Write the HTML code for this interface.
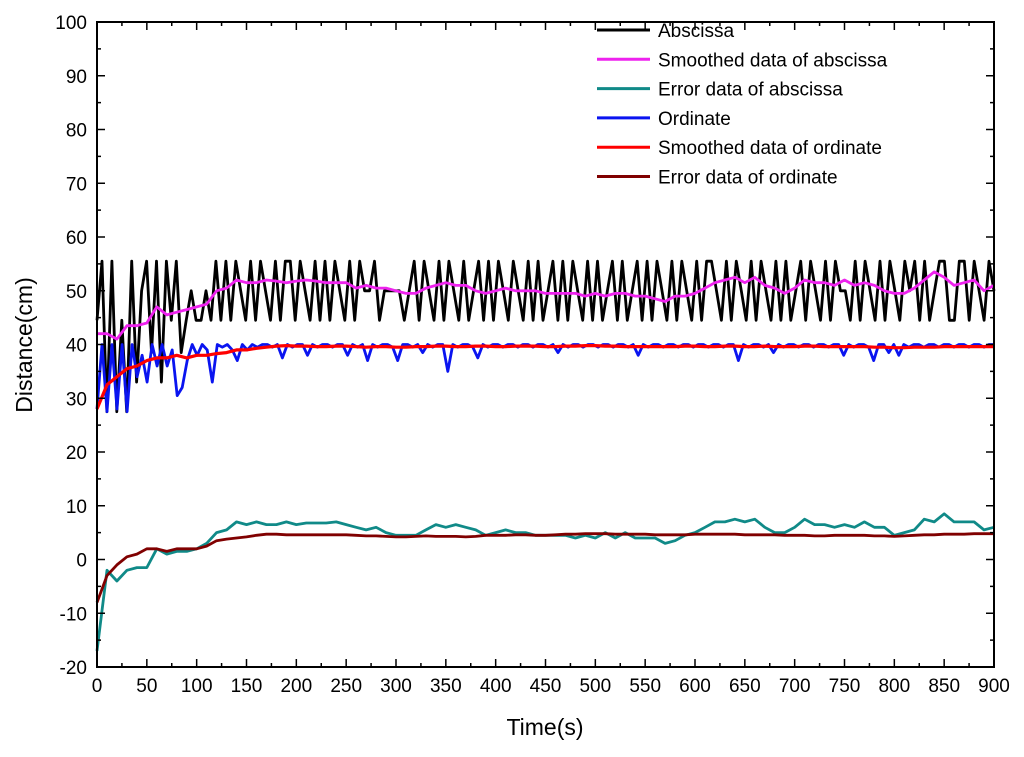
<!DOCTYPE html>
<html><head><meta charset="utf-8"><style>
body{margin:0;background:#fff}
svg{display:block;font-family:"Liberation Sans",Arial,sans-serif}
</style></head><body>
<svg id="chart" width="1024" height="757"></svg>
<script>
const xTicks=[0,50,100,150,200,250,300,350,400,450,500,550,600,650,700,750,800,850,900];
const yTicks=[-20,-10,0,10,20,30,40,50,60,70,80,90,100];
const abscissa=[44.5,55.5,27.5,55.5,27.5,44.5,27.5,55.5,33,50,55.5,38.5,55.5,33,55.5,44.5,55.5,38.5,44.5,50,44.5,44.5,50,44.5,55.5,44.5,55.5,44.5,55.5,50,44.5,55.5,44.5,55.5,50,44.5,55.5,44.5,55.5,55.5,44.5,55.5,50,44.5,55.5,44.5,55.5,44.5,55.5,50,44.5,55.5,44.5,55.5,50,50,55.5,44.5,50,50,50,50,44.5,50,55.5,44.5,55.5,50,44.5,55.5,44.5,55.5,50,44.5,55.5,44.5,50,55.5,44.5,55.5,44.5,55.5,50,44.5,55.5,50,44.5,55.5,44.5,55.5,44.5,50,55.5,44.5,55.5,44.5,55.5,50,44.5,55.5,44.5,55.5,44.5,50,55.5,44.5,55.5,44.5,50,55.5,44.5,55.5,44.5,55.5,50,44.5,55.5,44.5,55.5,50,44.5,55.5,44.5,55.5,55.5,50,44.5,55.5,44.5,55.5,50,44.5,55.5,44.5,55.5,50,44.5,55.5,44.5,55.5,44.5,50,55.5,44.5,55.5,50,44.5,55.5,44.5,55.5,50,50,44.5,55.5,44.5,55.5,50,44.5,55.5,44.5,55.5,50,44.5,55.5,50,55.5,44.5,55.5,44.5,50,55.5,55.5,44.5,44.5,55.5,55.5,44.5,55.5,50,44.5,55.5,50];
const ordinate=[28,40,27.5,40,28,40,27.5,40,34,38,33,40,36,40,36,39,30.5,32,37,40,38,40,39,33,40,39.5,40,39,37,40,39,40,39.5,40,40,39.5,40,37.5,40,39.5,40,40,38,40,39.5,40,40,39.5,40,40,38,40,39.5,40,37,40,39.5,40,40,39.5,37,40,40,39.5,40,38.5,40,39.5,40,40,35,40,39.5,40,40,39.5,37.5,40,39.5,40,40,39.5,40,40,39.5,40,40,39.5,40,40,39.5,40,38.5,40,39.5,40,40,39.5,40,40,39.5,40,40,39.5,40,40,39.5,40,38,40,39.5,40,40,39.5,40,40,39.5,40,40,39.5,40,40,39.5,40,40,39.5,40,40,37,40,39.5,40,40,39.5,40,38.5,40,39.5,40,40,39.5,40,40,39.5,40,40,39.5,40,40,38,40,39.5,40,40,39.5,37,40,40,38.5,40,38,40,39.5,40,40,39.5,40,40,39.5,40,40,39.5,40,40,39.5,40,40,39.5,40,40];
const smoothAbs=[42,42,41,43.5,43.5,44,47,45.5,46,46.5,47,47.5,50,50.5,52,51.5,51.5,52,51.8,51.5,51.8,52,51.8,51.5,51.5,51.5,50.5,51,50.5,50.5,50,49.5,49.5,50.5,51,51.5,51,51,50,49.5,50,50.5,50,50,50,49.5,49.5,49.5,49.5,49,49.5,49,49.5,49.5,49,49,48.5,48,49,49,49.5,50.5,51.5,52,52.5,51.5,52.5,51,50.5,49.5,50.5,52,51.5,51.5,51,52,51,51.5,51,50,49.5,49.5,50.5,52,53.5,52.5,51,51.5,52,50,51];
const errAbs=[-17,-2,-4,-2,-1.5,-1.5,2,1,1.5,1.5,2,3,5,5.5,7,6.5,7,6.5,6.5,7,6.5,6.8,6.8,6.8,7,6.5,6,5.5,6,5,4.5,4.5,4.5,5.5,6.5,6,6.5,6,5.5,4.5,5,5.5,5,5,4.5,4.5,4.5,4.5,4,4.5,4,5,4,5,4,4,4,3,3.5,4.5,5,6,7,7,7.5,7,7.5,6,5,5,6,7.5,6.5,6.5,6,6.5,6,7,6,6,4.5,5,5.5,7.5,7,8.5,7,7,7,5.5,6];
const smoothOrd=[28,32.5,34,35.5,36,37,37.5,37.5,38,37.5,38,38,38.3,38.5,39,39,39.3,39.5,39.7,39.8,39.7,39.7,39.6,39.6,39.7,39.7,39.6,39.5,39.6,39.6,39.5,39.5,39.6,39.6,39.7,39.7,39.6,39.6,39.7,39.7,39.6,39.6,39.7,39.7,39.7,39.6,39.6,39.7,39.7,39.8,39.8,39.7,39.7,39.6,39.6,39.6,39.6,39.6,39.6,39.7,39.7,39.6,39.6,39.7,39.7,39.6,39.6,39.7,39.6,39.6,39.6,39.7,39.7,39.6,39.6,39.6,39.6,39.6,39.5,39.5,39.4,39.4,39.5,39.5,39.5,39.6,39.6,39.6,39.6,39.6,39.6];
const errOrd=[-8,-3,-1,0.5,1,2,2,1.5,2,2,2,2.5,3.5,3.8,4,4.2,4.5,4.7,4.7,4.6,4.6,4.6,4.6,4.6,4.6,4.6,4.5,4.4,4.4,4.3,4.2,4.2,4.3,4.4,4.3,4.3,4.3,4.2,4.3,4.5,4.5,4.5,4.6,4.6,4.5,4.5,4.6,4.7,4.7,4.8,4.8,4.8,4.7,4.7,4.7,4.7,4.6,4.6,4.6,4.6,4.7,4.7,4.7,4.7,4.7,4.6,4.6,4.6,4.6,4.5,4.5,4.5,4.4,4.4,4.5,4.5,4.5,4.5,4.4,4.4,4.3,4.4,4.5,4.6,4.6,4.7,4.7,4.7,4.8,4.8,4.8];
const seriesNames=["Abscissa","Smoothed data of abscissa","Error data of abscissa","Ordinate","Smoothed data of ordinate","Error data of ordinate"];
const X0=97,X1=994,Y0=22,Y1=667;
function sx(v){return X0+(v-0)/900*(X1-X0);}
function sy(v){return Y1-(v+20)/120*(Y1-Y0);}
const NS="http://www.w3.org/2000/svg";
const svg=document.getElementById('chart');
function mk(t,a,p){const e=document.createElementNS(NS,t);for(const k in a)e.setAttribute(k,a[k]);(p||svg).appendChild(e);return e;}
function line(data,color,name,w){
  const step=900/(data.length-1);
  const pts=data.map((v,i)=>sx(i*step).toFixed(1)+","+sy(v).toFixed(1)).join(" ");
  const e=mk('polyline',{points:pts,fill:"none",stroke:color,"stroke-width":w||2.8,"stroke-linejoin":"round"});
  
  
}
line(abscissa,"#000","abscissa-line");
line(ordinate,"#0a14f0","ordinate-line");
line(smoothAbs,"#ee22ee","smoothed-abscissa-line");
line(smoothOrd,"#ff0000","smoothed-ordinate-line",3.2);
line(errAbs,"#108a88","error-abscissa-line");
line(errOrd,"#800000","error-ordinate-line");
const fr=mk('rect',{x:X0,y:Y0,width:X1-X0,height:Y1-Y0,fill:"none",stroke:"#000","stroke-width":2});


xTicks.forEach((t,i)=>{
  const x=sx(t);
  mk('line',{x1:x,x2:x,y1:Y1,y2:Y1-8,stroke:"#000","stroke-width":1.5});
  mk('line',{x1:x,x2:x,y1:Y0,y2:Y0+8,stroke:"#000","stroke-width":1.5});
  if(i<xTicks.length-1){const xm=sx(t+25);
    mk('line',{x1:xm,x2:xm,y1:Y1,y2:Y1-4,stroke:"#000","stroke-width":1.5});
    mk('line',{x1:xm,x2:xm,y1:Y0,y2:Y0+4,stroke:"#000","stroke-width":1.5});}
  const tx=mk('text',{x:x,y:Y1+25,"text-anchor":"middle","font-size":19});
  tx.textContent=t;
  
  
});
yTicks.forEach((t,i)=>{
  const y=sy(t);
  mk('line',{x1:X0,x2:X0+8,y1:y,y2:y,stroke:"#000","stroke-width":1.5});
  mk('line',{x1:X1,x2:X1-8,y1:y,y2:y,stroke:"#000","stroke-width":1.5});
  if(i<yTicks.length-1){const ym=sy(t+5);
    mk('line',{x1:X0,x2:X0+4,y1:ym,y2:ym,stroke:"#000","stroke-width":1.5});
    mk('line',{x1:X1,x2:X1-4,y1:ym,y2:ym,stroke:"#000","stroke-width":1.5});}
  const tx=mk('text',{x:X0-10,y:y+7,"text-anchor":"end","font-size":19});
  tx.textContent=t;
  
  
});
const xt=mk('text',{x:545,y:735,"text-anchor":"middle","font-size":23});
xt.textContent="Time(s)";


const yt=mk('text',{x:0,y:0,"text-anchor":"middle","font-size":23,transform:"translate(32,345) rotate(-90)"});
yt.textContent="Distance(cm)";


const colors=["#000","#ee22ee","#108a88","#0a14f0","#ff0000","#800000"];
seriesNames.forEach((n,i)=>{
  const y=30+i*29.3;
  const g=mk('g',{});
  
  
  mk('line',{x1:597,x2:650,y1:y,y2:y,stroke:colors[i],"stroke-width":3},g);
  const t=mk('text',{x:658,y:y+7,"font-size":19},g);
  t.textContent=n;
});
</script>
</body></html>
